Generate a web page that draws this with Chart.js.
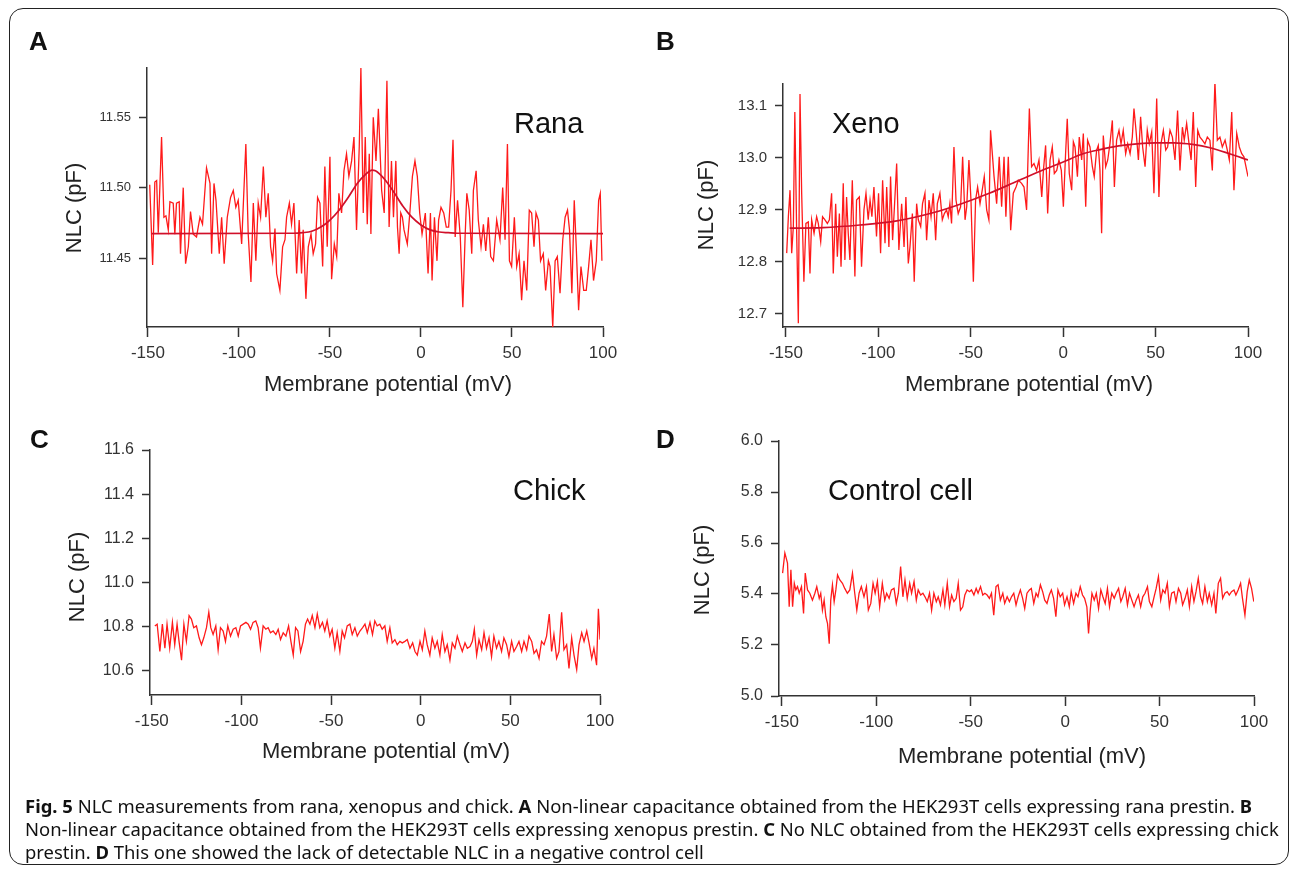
<!DOCTYPE html>
<html>
<head>
<meta charset="utf-8">
<script src="https://cdn.jsdelivr.net/npm/chart.js@4.4.1/dist/chart.umd.min.js"></script>
<style>
  html, body { margin: 0; padding: 0; background: #fff; }
  body { width: 1293px; height: 869px; position: relative; overflow: hidden; font-family: "Liberation Sans", Arial, sans-serif; }
  #frame { position: absolute; left: 9px; top: 8px; width: 1280px; height: 857px; border: 1.5px solid #222; border-radius: 14px; box-sizing: border-box; }
  canvas { position: absolute; }
  .lab { position: absolute; font-weight: bold; font-size: 26px; line-height: 26px; color: #111; }
  .name { position: absolute; font-size: 29px; line-height: 29px; color: #111; }
  .cap { position: absolute; left: 25px; font-family: "Noto Sans", "Open Sans", sans-serif; font-size: 18px; line-height: 20px; white-space: nowrap; transform-origin: 0 0; color: #111; }
</style>
</head>
<body>
<div id="frame"></div>

<canvas id="chartA" width="640" height="400" style="left:0;top:0"></canvas>
<canvas id="chartB" width="653" height="400" style="left:640px;top:0"></canvas>
<canvas id="chartC" width="640" height="400" style="left:0;top:400px"></canvas>
<canvas id="chartD" width="653" height="400" style="left:640px;top:400px"></canvas>

<div class="lab" style="left:29px;top:28px">A</div>
<div class="lab" style="left:656px;top:28px">B</div>
<div class="lab" style="left:30px;top:426px">C</div>
<div class="lab" style="left:656px;top:426px">D</div>

<div class="name" style="left:514px;top:109px">Rana</div>
<div class="name" style="left:832px;top:109px">Xeno</div>
<div class="name" style="left:513px;top:476px">Chick</div>
<div class="name" style="left:828px;top:476px">Control cell</div>

<div class="cap" style="top:796px"><b>Fig. 5</b> NLC measurements from rana, xenopus and chick. <b>A</b> Non-linear capacitance obtained from the HEK293T cells expressing rana prestin. <b>B</b></div>
<div class="cap" style="top:819px">Non-linear capacitance obtained from the HEK293T cells expressing xenopus prestin. <b>C</b> No NLC obtained from the HEK293T cells expressing chick</div>
<div class="cap" style="top:842px">prestin. <b>D</b> This one showed the lack of detectable NLC in a negative control cell</div>

<script>
const xTicks = [-150, -100, -50, 0, 50, 100];

// A - rana (mV, pF)
const voltsA = [
  -149.0, -147.4, -146.2, -145.2, -144.3, -142.5, -141.2, -140.1, -138.8, -137.9,
  -136.1, -135.2, -134.3, -132.8, -132.1, -130.6, -129.3, -127.8, -126.6, -125.1,
  -123.3, -121.4, -120.0, -117.8, -115.9, -115.0, -113.7, -112.6, -110.8, -109.5,
  -108.1, -106.4, -104.6, -103.1, -101.7, -100.4, -98.5, -96.2, -94.9, -93.4,
  -92.1, -90.7, -89.4, -88.1, -86.6, -85.2, -83.9, -82.6, -81.5, -80.2,
  -79.3, -77.5, -76.0, -74.7, -73.8, -72.3, -71.1, -69.8, -68.3, -66.9,
  -65.6, -64.7, -63.2, -61.9, -60.4, -59.2, -57.9, -56.8, -55.5, -54.0,
  -52.8, -51.5, -50.0, -49.1, -47.6, -46.3, -45.1, -43.6, -42.3, -40.9,
  -39.6, -38.1, -36.8, -35.4, -33.9, -33.0, -31.7, -30.6, -29.5, -28.4,
  -27.5, -26.2, -24.7, -23.4, -21.6, -20.2, -18.7, -17.5, -16.2, -15.1,
  -13.8, -12.9, -12.0, -11.1, -10.2, -9.3, -7.5, -6.0, -4.7, -3.3,
  -2.0, -0.7, 0.6, 2.4, 3.9, 5.2, 6.1, 7.4, 8.8, 9.7,
  11.0, 12.5, 13.9, 15.2, 16.5, 17.6, 18.8, 20.1, 21.6, 23.0,
  24.3, 25.2, 26.5, 27.9, 28.8, 30.3, 31.5, 33.0, 34.3, 35.6,
  37.0, 38.3, 39.8, 41.6, 43.4, 44.9, 46.2, 47.5, 48.6, 49.8,
  51.3, 52.6, 53.9, 55.3, 56.6, 58.1, 59.5, 60.8, 62.1, 63.2,
  64.5, 65.7, 67.2, 68.5, 70.0, 70.9, 72.4, 73.7, 74.9, 76.4,
  77.9, 79.2, 80.5, 81.6, 82.9, 84.2, 85.3, 86.6, 87.9, 89.4,
  90.8, 92.1, 93.4, 94.8, 96.3, 97.6, 98.5, 99.4
];
const nlcA = [
  11.502, 11.445, 11.504, 11.505, 11.468, 11.536, 11.479, 11.480, 11.470, 11.490,
  11.489, 11.467, 11.489, 11.490, 11.453, 11.500, 11.446, 11.458, 11.483, 11.467,
  11.465, 11.479, 11.474, 11.514, 11.503, 11.453, 11.503, 11.491, 11.453, 11.479,
  11.446, 11.479, 11.493, 11.498, 11.486, 11.491, 11.460, 11.531, 11.467, 11.433,
  11.489, 11.448, 11.489, 11.479, 11.515, 11.479, 11.496, 11.458, 11.448, 11.471,
  11.439, 11.427, 11.458, 11.463, 11.479, 11.489, 11.474, 11.489, 11.439, 11.477,
  11.439, 11.470, 11.421, 11.458, 11.467, 11.453, 11.460, 11.493, 11.489, 11.444,
  11.515, 11.458, 11.522, 11.435, 11.460, 11.451, 11.496, 11.482, 11.512, 11.524,
  11.508, 11.519, 11.536, 11.470, 11.529, 11.585, 11.482, 11.536, 11.474, 11.524,
  11.467, 11.550, 11.519, 11.556, 11.498, 11.482, 11.576, 11.472, 11.519, 11.479,
  11.519, 11.472, 11.453, 11.482, 11.479, 11.470, 11.460, 11.484, 11.508, 11.519,
  11.508, 11.482, 11.467, 11.482, 11.439, 11.482, 11.434, 11.479, 11.448, 11.477,
  11.486, 11.482, 11.472, 11.472, 11.498, 11.534, 11.465, 11.491, 11.465, 11.415,
  11.467, 11.496, 11.484, 11.453, 11.498, 11.512, 11.477, 11.458, 11.474, 11.455,
  11.479, 11.451, 11.448, 11.477, 11.463, 11.500, 11.463, 11.531, 11.448, 11.444,
  11.479, 11.444, 11.453, 11.420, 11.448, 11.427, 11.484, 11.482, 11.458, 11.482,
  11.477, 11.448, 11.453, 11.427, 11.448, 11.444, 11.401, 11.448, 11.451, 11.425,
  11.463, 11.479, 11.484, 11.470, 11.425, 11.491, 11.458, 11.413, 11.444, 11.427,
  11.427, 11.444, 11.463, 11.434, 11.448, 11.491, 11.496, 11.448
];
const fitVoltsA = [-148, -70, -65, -60, -55, -50, -45, -40, -35, -30, -27, -25, -20, -15, -10, -5, 0, 5, 10, 15, 20, 100];
const fitA = [11.4674, 11.4676, 11.468, 11.469, 11.472, 11.477, 11.484, 11.493, 11.503, 11.510, 11.5125, 11.512,
  11.506, 11.497, 11.487, 11.479, 11.4735, 11.470, 11.4685, 11.468, 11.4676, 11.4674];
const yTicksA = [11.45, 11.50, 11.55];

// B - xenopus
const voltsB = [
  -149.6, -148.7, -147.8, -146.9, -146.0, -145.2, -144.2, -143.3, -142.4, -141.5,
  -140.3, -139.2, -137.9, -137.0, -136.1, -134.8, -133.4, -132.5, -131.2, -130.2,
  -128.9, -127.6, -126.5, -125.3, -124.4, -123.1, -122.2, -121.1, -120.2, -119.0,
  -118.1, -117.2, -116.3, -115.4, -114.1, -112.7, -111.8, -110.3, -109.1, -107.8,
  -106.7, -105.5, -104.5, -103.5, -102.4, -101.0, -99.9, -98.8, -97.7, -96.4,
  -95.5, -94.3, -93.4, -92.3, -91.4, -90.1, -88.9, -87.4, -86.1, -85.1,
  -83.8, -82.9, -81.6, -80.6, -79.3, -78.4, -77.1, -76.1, -74.8, -73.9,
  -72.6, -71.5, -70.3, -69.0, -68.1, -66.7, -65.4, -64.3, -63.1, -62.2,
  -61.3, -60.4, -59.1, -58.0, -56.8, -55.5, -54.4, -53.1, -52.2, -51.0,
  -49.9, -48.6, -47.4, -46.3, -45.0, -43.8, -42.7, -41.4, -40.2, -39.3,
  -37.4, -36.0, -34.6, -33.3, -32.0, -31.0, -29.7, -28.4, -27.0, -25.5,
  -24.3, -22.5, -21.2, -19.8, -18.3, -17.1, -15.8, -14.4, -13.1, -11.6,
  -10.7, -9.5, -8.4, -7.1, -5.9, -4.8, -3.5, -2.3, -1.0, 0.1,
  1.3, 2.2, 3.3, 4.6, 5.5, 6.4, 7.7, 8.7, 10.0, 10.9,
  12.2, 13.2, 14.5, 15.8, 16.8, 18.1, 19.0, 19.9, 20.8, 21.7,
  23.0, 24.1, 25.3, 26.6, 27.7, 28.9, 30.2, 31.3, 32.5, 33.8,
  34.9, 36.2, 37.4, 38.3, 39.4, 40.7, 41.9, 43.0, 44.3, 45.5,
  46.6, 47.9, 49.1, 50.6, 51.8, 52.9, 54.2, 55.5, 56.5, 57.8,
  59.1, 60.5, 61.9, 63.2, 64.5, 65.5, 66.8, 68.1, 69.2, 70.4,
  71.7, 72.8, 74.0, 75.3, 76.7, 78.0, 79.4, 80.7, 82.1, 83.4,
  84.8, 86.1, 87.6, 88.8, 89.9, 91.2, 92.4, 93.9, 95.3, 96.6,
  97.8, 98.9, 100.0
];
const nlcB = [
  12.817, 12.887, 12.938, 12.817, 12.868, 13.088, 12.855, 12.682, 13.123, 12.932,
  12.762, 12.874, 12.877, 12.778, 12.881, 12.855, 12.887, 12.874, 12.839, 12.887,
  12.881, 12.874, 12.881, 12.932, 12.778, 12.912, 12.810, 12.893, 12.791, 12.951,
  12.804, 12.925, 12.855, 12.804, 12.957, 12.772, 12.919, 12.925, 12.791, 12.900,
  12.932, 12.881, 12.919, 12.887, 12.944, 12.849, 12.932, 12.817, 12.957, 12.836,
  12.944, 12.829, 12.964, 12.842, 12.900, 12.989, 12.823, 12.912, 12.829, 12.925,
  12.797, 12.829, 12.893, 12.762, 12.912, 12.881, 12.868, 12.912, 12.932, 12.842,
  12.919, 12.887, 12.932, 12.842, 12.912, 12.932, 12.881, 12.893, 12.900, 12.887,
  12.912, 12.874, 13.021, 12.919, 12.893, 12.906, 13.002, 12.881, 12.906, 12.996,
  12.919, 12.762, 12.919, 12.944, 12.912, 12.938, 12.964, 12.900, 12.881, 13.053,
  12.964, 12.912, 13.002, 12.906, 13.002, 12.887, 13.002, 12.861, 12.932, 12.944,
  12.957, 12.951, 12.944, 12.900, 13.095, 12.983, 12.989, 12.976, 12.996, 12.925,
  12.976, 13.024, 12.893, 12.996, 13.021, 12.970, 12.976, 12.996, 12.976, 12.906,
  13.008, 13.075, 12.970, 12.938, 13.031, 13.021, 12.964, 13.040, 12.996, 13.047,
  12.906, 13.034, 13.021, 12.983, 12.964, 13.015, 13.024, 12.976, 12.855, 13.043,
  12.983, 12.996, 13.027, 13.072, 12.944, 13.034, 13.053, 13.027, 13.053, 13.008,
  13.027, 13.008, 13.040, 13.095, 13.053, 12.996, 13.079, 13.021, 12.983, 13.053,
  13.027, 13.050, 12.932, 13.114, 12.925, 13.027, 13.053, 13.015, 13.021, 13.053,
  13.040, 12.996, 13.091, 12.976, 13.059, 13.034, 13.066, 13.027, 12.996, 13.088,
  12.944, 13.053, 13.040, 13.034, 13.027, 13.040, 13.034, 12.976, 13.146, 13.034,
  13.040, 13.021, 13.034, 13.015, 12.996, 13.088, 12.938, 13.047, 13.021, 13.008,
  13.002, 12.983, 12.964
];
const fitVoltsB = [-148, -130, -110, -90, -70, -55, -40, -25, -10, 0, 10, 20, 30, 40, 50, 60, 70, 80, 90, 100];
const fitB = [12.865, 12.866, 12.871, 12.879, 12.895, 12.912, 12.932, 12.955, 12.978, 12.992,
  13.007, 13.016, 13.023, 13.027, 13.029, 13.029, 13.026, 13.019, 13.008, 12.996];
const yTicksB = [12.7, 12.8, 12.9, 13.0, 13.1];

// C - chick
const voltsC = [
  -148.3, -147.0, -145.5, -144.1, -142.7, -141.5, -140.0, -138.5, -137.2, -135.9,
  -134.8, -133.4, -132.1, -130.7, -129.2, -127.9, -126.6, -125.1, -123.6, -122.3,
  -121.0, -119.5, -118.2, -117.1, -115.8, -114.3, -113.0, -111.7, -110.2, -108.9,
  -107.6, -106.1, -104.6, -103.1, -101.8, -100.5, -99.0, -97.5, -96.2, -94.9,
  -93.5, -92.0, -90.7, -89.4, -87.9, -86.4, -85.1, -83.8, -82.3, -80.8,
  -79.5, -78.2, -76.7, -75.2, -73.7, -72.4, -71.1, -69.8, -68.5, -67.0,
  -65.6, -64.3, -63.1, -61.8, -60.5, -59.0, -57.7, -56.3, -54.8, -53.5,
  -52.2, -50.7, -49.4, -47.9, -46.6, -45.1, -43.8, -42.5, -41.0, -39.5,
  -38.2, -36.7, -35.4, -33.9, -32.4, -31.1, -29.8, -28.3, -26.9, -25.6,
  -24.3, -22.8, -21.5, -20.0, -18.7, -17.2, -15.9, -14.4, -13.1, -11.6,
  -10.3, -8.8, -7.5, -6.0, -4.5, -3.2, -1.9, -0.4, 0.9, 2.3,
  3.6, 5.1, 6.4, 7.9, 9.2, 10.7, 12.0, 13.5, 14.8, 16.3,
  17.6, 19.1, 20.4, 21.9, 23.2, 24.7, 26.0, 27.5, 28.8, 29.9,
  31.2, 32.5, 34.0, 35.3, 36.7, 38.1, 39.5, 40.8, 42.3, 43.6,
  45.1, 46.4, 47.9, 49.2, 50.7, 52.0, 53.5, 54.8, 56.3, 57.6,
  59.1, 60.4, 61.9, 63.2, 64.6, 66.0, 67.4, 68.8, 70.2, 71.7,
  73.0, 74.3, 75.8, 77.1, 78.6, 79.9, 81.4, 82.7, 84.2, 85.5,
  87.0, 88.3, 89.8, 91.1, 92.6, 93.9, 95.4, 96.6, 98.1, 99.1,
  100.0
];
const nlcC = [
  10.803, 10.811, 10.687, 10.811, 10.702, 10.811, 10.702, 10.819, 10.718, 10.811,
  10.733, 10.648, 10.811, 10.733, 10.850, 10.834, 10.795, 10.803, 10.749, 10.718,
  10.749, 10.795, 10.865, 10.795, 10.764, 10.803, 10.695, 10.795, 10.780, 10.733,
  10.803, 10.757, 10.788, 10.795, 10.757, 10.803, 10.811, 10.819, 10.811, 10.788,
  10.819, 10.826, 10.795, 10.702, 10.803, 10.788, 10.795, 10.772, 10.780, 10.764,
  10.788, 10.741, 10.772, 10.757, 10.803, 10.733, 10.671, 10.795, 10.780, 10.687,
  10.733, 10.811, 10.834, 10.811, 10.850, 10.795, 10.857, 10.795, 10.819, 10.780,
  10.826, 10.757, 10.788, 10.702, 10.772, 10.687, 10.780, 10.749, 10.803, 10.811,
  10.764, 10.795, 10.757, 10.780, 10.795, 10.811, 10.772, 10.819, 10.764, 10.826,
  10.803, 10.811, 10.788, 10.803, 10.733, 10.795, 10.726, 10.741, 10.718, 10.733,
  10.726, 10.733, 10.741, 10.702, 10.726, 10.687, 10.671, 10.733, 10.695, 10.780,
  10.718, 10.671, 10.749, 10.702, 10.733, 10.671, 10.764, 10.687, 10.718, 10.648,
  10.726, 10.702, 10.757, 10.718, 10.687, 10.726, 10.702, 10.710, 10.733, 10.788,
  10.671, 10.741, 10.695, 10.772, 10.702, 10.749, 10.664, 10.757, 10.702, 10.733,
  10.687, 10.749, 10.718, 10.664, 10.733, 10.687, 10.710, 10.733, 10.687, 10.733,
  10.695, 10.757, 10.733, 10.679, 10.695, 10.656, 10.733, 10.718, 10.757, 10.857,
  10.687, 10.764, 10.656, 10.687, 10.865, 10.695, 10.718, 10.610, 10.749, 10.671,
  10.605, 10.718, 10.772, 10.733, 10.780, 10.726, 10.656, 10.702, 10.625, 10.881,
  10.741
];
const yTicksC = [10.6, 10.8, 11.0, 11.2, 11.4, 11.6];

// D - control cell
const voltsD = [
  -149.6, -148.4, -147.0, -146.1, -145.2, -144.3, -143.4, -142.6, -141.7, -140.8,
  -139.6, -138.5, -137.6, -136.4, -135.2, -133.8, -132.5, -131.5, -130.2, -129.4,
  -128.5, -127.6, -126.7, -125.8, -124.9, -124.1, -123.2, -122.3, -121.4, -120.5,
  -119.3, -117.9, -116.7, -115.3, -114.0, -112.6, -111.4, -110.3, -109.1, -107.9,
  -106.5, -105.2, -104.2, -102.9, -101.7, -100.6, -99.4, -98.2, -96.8, -95.5,
  -94.5, -93.2, -92.0, -90.6, -89.4, -88.3, -87.1, -85.9, -84.8, -83.6,
  -82.3, -81.3, -80.0, -78.8, -77.8, -76.5, -75.3, -74.2, -73.0, -71.8,
  -70.7, -69.5, -68.2, -67.2, -66.0, -64.7, -63.7, -62.4, -61.2, -60.1,
  -58.9, -57.7, -56.6, -55.4, -54.2, -53.1, -51.9, -50.6, -49.6, -48.3,
  -47.1, -46.1, -44.8, -43.6, -42.5, -41.3, -40.1, -39.0, -37.8, -36.6,
  -35.5, -34.3, -33.0, -32.0, -30.7, -29.5, -28.4, -27.2, -26.0, -24.9,
  -23.7, -22.5, -21.4, -20.2, -18.9, -17.9, -16.6, -15.4, -14.4, -13.1,
  -11.9, -10.8, -9.6, -8.4, -7.3, -6.1, -4.9, -3.8, -2.6, -1.3,
  -0.3, 1.0, 2.2, 3.2, 4.5, 5.7, 6.8, 8.0, 9.2, 10.3,
  11.5, 12.4, 13.3, 14.2, 15.4, 16.5, 17.7, 18.9, 20.0, 21.2,
  22.4, 23.5, 24.7, 26.0, 27.0, 28.3, 29.5, 30.5, 31.8, 33.0,
  34.1, 35.3, 36.5, 37.6, 38.8, 40.0, 41.1, 42.3, 43.6, 44.6,
  45.9, 47.1, 48.2, 49.4, 50.6, 51.7, 52.9, 54.1, 55.2, 56.4,
  57.7, 58.7, 60.0, 61.2, 62.2, 63.5, 64.7, 65.8, 67.0, 68.2,
  69.3, 70.5, 71.7, 72.8, 74.0, 75.3, 76.3, 77.6, 78.8, 79.8,
  81.1, 82.3, 83.4, 84.6, 85.8, 86.9, 88.1, 89.4, 90.4, 91.6,
  92.9, 93.9, 95.2, 96.4, 97.5, 98.7, 99.9
];
const nlcD = [
  5.482, 5.561, 5.521, 5.350, 5.495, 5.350, 5.442, 5.416, 5.429, 5.403,
  5.429, 5.324, 5.482, 5.416, 5.403, 5.376, 5.403, 5.429, 5.383, 5.403,
  5.337, 5.376, 5.311, 5.284, 5.205, 5.376, 5.436, 5.370, 5.416, 5.475,
  5.455, 5.442, 5.422, 5.403, 5.416, 5.482, 5.403, 5.337, 5.403, 5.429,
  5.389, 5.429, 5.337, 5.363, 5.442, 5.403, 5.449, 5.350, 5.442, 5.376,
  5.403, 5.383, 5.416, 5.422, 5.363, 5.403, 5.508, 5.389, 5.455, 5.383,
  5.442, 5.403, 5.449, 5.376, 5.416, 5.396, 5.403, 5.389, 5.370, 5.403,
  5.337, 5.403, 5.370, 5.389, 5.357, 5.416, 5.357, 5.442, 5.350, 5.396,
  5.370, 5.383, 5.442, 5.337, 5.350, 5.396, 5.416, 5.409, 5.416, 5.396,
  5.422, 5.403, 5.429, 5.396, 5.403, 5.396, 5.383, 5.403, 5.317, 5.429,
  5.436, 5.376, 5.403, 5.363, 5.389, 5.370, 5.389, 5.403, 5.357, 5.389,
  5.416, 5.383, 5.343, 5.403, 5.416, 5.422, 5.363, 5.403, 5.389, 5.436,
  5.409, 5.376, 5.363, 5.396, 5.416, 5.383, 5.311, 5.416, 5.389, 5.403,
  5.357, 5.389, 5.350, 5.409, 5.363, 5.403, 5.389, 5.429, 5.396, 5.383,
  5.350, 5.245, 5.337, 5.403, 5.376, 5.403, 5.343, 5.416, 5.389, 5.363,
  5.422, 5.350, 5.403, 5.383, 5.403, 5.422, 5.370, 5.389, 5.422, 5.357,
  5.403, 5.376, 5.350, 5.376, 5.396, 5.350, 5.389, 5.403, 5.429, 5.370,
  5.350, 5.389, 5.422, 5.468, 5.376, 5.416, 5.403, 5.442, 5.350, 5.403,
  5.409, 5.370, 5.422, 5.403, 5.357, 5.383, 5.416, 5.350, 5.429, 5.370,
  5.409, 5.462, 5.389, 5.363, 5.429, 5.370, 5.403, 5.357, 5.403, 5.324,
  5.442, 5.462, 5.383, 5.403, 5.409, 5.396, 5.409, 5.416, 5.396, 5.416,
  5.442, 5.383, 5.317, 5.409, 5.455, 5.422, 5.370
];
const yTicksD = [5.0, 5.2, 5.4, 5.6, 5.8, 6.0];

const family = '"Liberation Sans", Arial, sans-serif';
Chart.defaults.font.family = family;

// axis titles drawn at the spots they take in the figure
const axisTitles = {
  id: 'axisTitles',
  afterDraw(chart, args, opts) {
    const ctx = chart.ctx;
    ctx.save();
    ctx.fillStyle = '#222';
    ctx.font = '22px ' + family;
    ctx.textAlign = 'center';
    ctx.textBaseline = 'middle';
    ctx.fillText('Membrane potential (mV)', opts.x[0], opts.x[1]);
    ctx.translate(opts.y[0], opts.y[1]);
    ctx.rotate(-Math.PI / 2);
    ctx.fillText('NLC (pF)', 0, 0);
    ctx.restore();
  }
};

function makePanel(id, p) {
  const datasets = [{
    data: p.volts.map((v, i) => ({ x: v, y: p.nlc[i] })),
    borderColor: '#ff1a1a',
    borderWidth: 1.3,
    pointRadius: 0,
    tension: 0,
    order: 1
  }];
  if (p.fitVolts) {
    datasets.push({
      data: p.fitVolts.map((v, i) => ({ x: v, y: p.fit[i] })),
      borderColor: '#d0102a',
      borderWidth: 1.7,
      pointRadius: 0,
      cubicInterpolationMode: 'monotone',
      order: 0
    });
  }

  const config = {
    type: 'line',
    data: { datasets: datasets },
    plugins: [axisTitles],
    options: {
      responsive: false,
      animation: false,
      events: [],
      layout: { padding: p.pad },
      plugins: {
        legend: { display: false },
        tooltip: { enabled: false },
        axisTitles: { x: p.xTitle, y: p.yTitle }
      },
      scales: {
        x: {
          type: 'linear',
          min: p.xmin,
          max: 100,
          afterBuildTicks: s => { s.ticks = xTicks.map(v => ({ value: v })); },
          afterFit: s => { s.height = p.xh; },
          grid: { display: true, drawOnChartArea: false, drawTicks: true, tickLength: 10, tickColor: '#333', tickWidth: 1.5 },
          border: { display: true, color: '#333', width: 1.5 },
          ticks: { font: { size: 17 }, color: '#333', padding: 6, maxRotation: 0, autoSkip: false }
        },
        y: {
          type: 'linear',
          min: p.ymin,
          max: p.ymax,
          afterBuildTicks: s => { s.ticks = p.yTicks.map(v => ({ value: v })); },
          afterFit: s => { s.width = p.yw; },
          grid: { display: true, drawOnChartArea: false, drawTicks: true, tickLength: 8, tickColor: '#333', tickWidth: 1.5 },
          border: { display: true, color: '#333', width: 1.5 },
          ticks: { font: { size: p.yFont }, color: '#333', padding: 8, autoSkip: false, callback: v => v.toFixed(p.dec) }
        }
      }
    }
  };

  const ctx = document.getElementById(id).getContext('2d');
  return new Chart(ctx, config);
}

makePanel('chartA', {
  volts: voltsA, nlc: nlcA, fitVolts: fitVoltsA, fit: fitA, yTicks: yTicksA, dec: 2,
  xmin: -150.5, ymin: 11.401, ymax: 11.585, yFont: 13,
  pad: { left: 0, top: 68, right: 37, bottom: 0 }, yw: 147, xh: 73,
  xTitle: [388, 385], yTitle: [75, 208]
});
makePanel('chartB', {
  volts: voltsB, nlc: nlcB, fitVolts: fitVoltsB, fit: fitB, yTicks: yTicksB, dec: 1,
  xmin: -151.6, ymin: 12.675, ymax: 13.142, yFont: 15,
  pad: { left: 0, top: 84, right: 45, bottom: 0 }, yw: 143, xh: 73,
  xTitle: [389, 385], yTitle: [67, 205]
});
makePanel('chartC', {
  volts: voltsC, nlc: nlcC, yTicks: yTicksC, dec: 1,
  xmin: -151, ymin: 10.49, ymax: 11.6, yFont: 16,
  pad: { left: 0, top: 50, right: 40, bottom: 0 }, yw: 150, xh: 105,
  xTitle: [386, 352], yTitle: [78, 177]
});
makePanel('chartD', {
  volts: voltsD, nlc: nlcD, yTicks: yTicksD, dec: 1,
  xmin: -151.5, ymin: 5.0, ymax: 6.0, yFont: 16,
  pad: { left: 0, top: 41, right: 39, bottom: 0 }, yw: 139, xh: 104,
  xTitle: [382, 357], yTitle: [63, 170]
});

// squeeze the caption lines to the width they take in the figure
const capLines = document.querySelectorAll('.cap');
const capScale = 1227 / capLines[0].getBoundingClientRect().width;
capLines.forEach(l => { l.style.transform = 'scaleX(' + capScale + ')'; });
</script>
</body>
</html>
